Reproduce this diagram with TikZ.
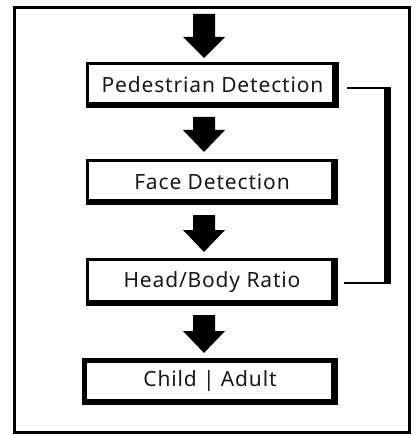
\documentclass[tikz,border=0pt]{standalone}
\usepackage{fontspec}
\setmainfont{Noto Sans}[LetterSpace=4]
\begin{document}
\begin{tikzpicture}[x=1pt,y=-1pt,
  lbl/.style={font=\fontsize{21}{24}\selectfont, text=black!90, inner sep=0pt, minimum height=46pt},
  thinline/.style={line width=1.6pt},
  thickline/.style={line width=7pt},
  barrow/.pic={\fill (-11,0) -- (11,0) -- (11,\shaft) -- (21,\shaft) -- (0,\tip) -- (-21,\shaft) -- (-11,\shaft) -- cycle;}]
\useasboundingbox (0,0) rectangle (417,435);
% outer frame
\draw[line width=3pt] (14.5,7.5) rectangle (409.5,432.5);
% boxes
\node[lbl, minimum width=253pt] (b1) at (212.5,85) {Pedestrian Detection};
\node[lbl, minimum width=252pt] (b2) at (212,182) {Face Detection};
\node[lbl, minimum width=252pt, minimum height=48pt] (b3) at (212,282) {Head/Body Ratio};
\node[lbl, minimum width=256pt, minimum height=47pt] (b4) at (210,381.5) {Child | Adult};
\foreach \n/\w in {b1/3.5,b2/3.5,b3/3.5,b4/5}{
  \draw[line width=\w pt] ([shift={(\w/2,\w/2)}]\n.north west) rectangle ([shift={(-\w/2,-\w/2)}]\n.south east);
  \fill ([xshift=-7pt]\n.north east) rectangle (\n.south east);
  \fill ([yshift=6pt]\n.south west) rectangle (\n.south east);
}
% block arrows
\def\shaft{23}\def\tip{44}
\pic at (204,14) {barrow};
\def\shaft{13}\def\tip{35}
\pic at (204,117) {barrow};
\def\shaft{15}\def\tip{37}
\pic at (204,215) {barrow};
\def\shaft{16}\def\tip{38}
\pic at (204,315) {barrow};
% side connector
\coordinate (c1) at (387,88);
\coordinate (c2) at (387,283);
\draw[thinline] ([xshift=8pt,yshift=-3pt]b1.east) -- ([xshift=3.5pt]c1);
\draw[thinline] ([xshift=6pt,yshift=-1pt]b3.east) -- ([xshift=3.5pt]c2);
\draw[thickline] ([yshift=0.8pt]c1) -- ([yshift=-0.8pt]c2);
\end{tikzpicture}
\end{document}
